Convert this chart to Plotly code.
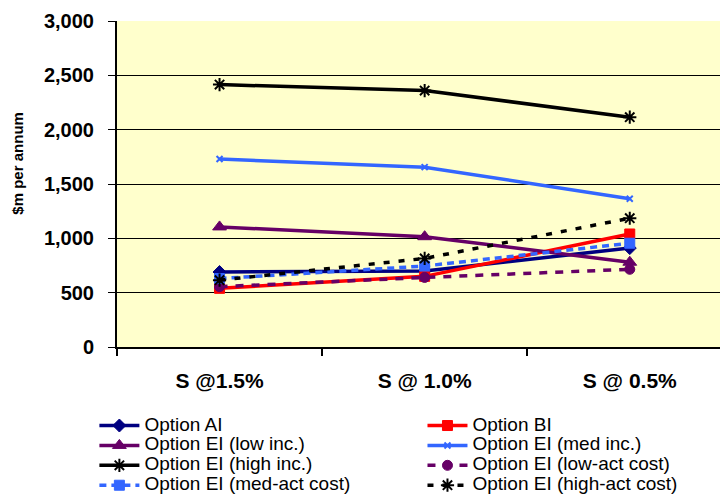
import plotly.graph_objects as go

categories = ["S @1.5%", "S @ 1.0%", "S @ 0.5%"]

option_ai = [690, 700, 910]
option_bi = [540, 650, 1040]
option_ei_low_inc = [1105, 1015, 780]
option_ei_med_inc = [1730, 1655, 1365]
option_ei_high_inc = [2415, 2360, 2115]
option_ei_low_act = [555, 640, 715]
option_ei_med_act = [630, 745, 955]
option_ei_high_act = [615, 815, 1185]

y_ticks = [0, 500, 1000, 1500, 2000, 2500, 3000]

FONT = "Liberation Sans, Arial, sans-serif"

# name, values, colour, dash, marker, size, marker line width, legend column
series = [
    ("Option AI", option_ai, "#000080", "solid", "diamond", 10, 1, "legend"),
    ("Option BI", option_bi, "#FF0000", "solid", "square", 10, 1, "legend2"),
    ("Option EI (low inc.)", option_ei_low_inc, "#660066", "solid", "triangle-up", 12, 1, "legend"),
    ("Option EI (med inc.)", option_ei_med_inc, "#3366FF", "solid", "x-thin-open", 6, 2, "legend2"),
    ("Option EI (high inc.)", option_ei_high_inc, "#000000", "solid", "asterisk-open", 11, 2, "legend"),
    ("Option EI (low-act cost)", option_ei_low_act, "#660066", "8px,8px", "circle", 10, 1, "legend2"),
    ("Option EI (med-act cost)", option_ei_med_act, "#3366FF", "7px,5px", "square", 10, 1, "legend"),
    ("Option EI (high-act cost)", option_ei_high_act, "#000000", "6px,9px", "asterisk-open", 11, 2, "legend2"),
]

fig = go.Figure()
for name, vals, color, dash, sym, size, lw, leg in series:
    fig.add_trace(go.Scatter(
        x=categories, y=vals, mode="lines+markers",
        name='<span style="font-size:19px">' + name + "</span>",
        legend=leg,
        line=dict(color=color, width=3.5, dash=dash),
        marker=dict(symbol=sym, size=size, color=color,
                    line=dict(color=color, width=lw)),
    ))

leg_common = dict(
    orientation="v", yanchor="top", xanchor="left",
    font=dict(family=FONT, size=13, color="black"),
    tracegroupgap=0, itemwidth=40, bgcolor="rgba(0,0,0,0)",
)

fig.update_layout(
    width=720, height=495,
    margin=dict(l=117, r=0, t=21, b=148, autoexpand=False),
    paper_bgcolor="white",
    plot_bgcolor="#FFFFCC",
    font=dict(family=FONT, color="black"),
    showlegend=True,
    legend=dict(x=-0.0375, y=-0.195, **leg_common),
    legend2=dict(x=0.5066, y=-0.195, **leg_common),
    xaxis=dict(
        type="category", range=[-0.5, 2.44],
        showgrid=False, showline=True, linecolor="black", linewidth=2,
        ticks="outside", tickson="boundaries", ticklen=7, tickwidth=2, tickcolor="black",
        tickfont=dict(family=FONT, size=21, color="black", weight="bold"),
        ticklabelstandoff=14,
        zeroline=False,
    ),
    yaxis=dict(
        range=[0, 3000], tickvals=y_ticks, tickformat=",",
        showgrid=True, gridcolor="black", gridwidth=1,
        showline=True, linecolor="black", linewidth=2,
        ticks="outside", ticklen=7, tickwidth=1, tickcolor="black",
        tickfont=dict(family=FONT, size=20, color="black", weight="bold"),
        ticklabelstandoff=10,
        zeroline=False,
    ),
    annotations=[dict(
        text="$m per annum", xref="paper", yref="paper",
        x=-0.165, y=0.564, xanchor="center", yanchor="middle",
        textangle=-90, showarrow=False,
        font=dict(family=FONT, size=15, color="black", weight="bold"),
    )],
)

fig.write_html(
    "out.html",
    config={"displayModeBar": False},
    post_script="document.body.style.margin='0';document.body.style.overflow='hidden';",
)
